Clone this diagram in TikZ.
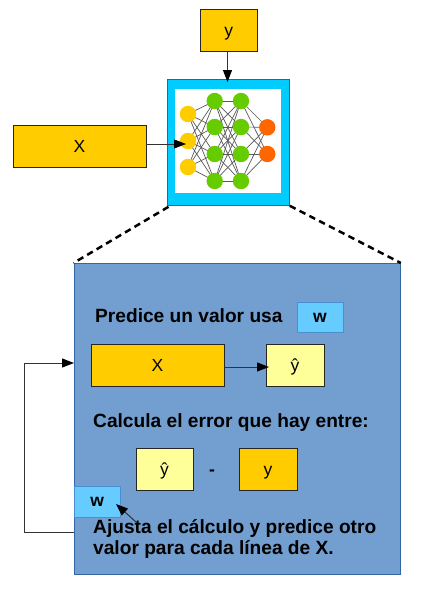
\documentclass[tikz,border=0pt]{standalone}
\usepackage{fontspec}
\setmainfont{Liberation Sans}
\usetikzlibrary{arrows.meta}
\definecolor{gold}{HTML}{FFCC00}
\definecolor{pale}{HTML}{FFFF99}
\definecolor{cyanf}{HTML}{00CCFF}
\definecolor{panel}{HTML}{729FCF}
\definecolor{panelb}{HTML}{3465A4}
\definecolor{wfill}{HTML}{66CCFF}
\definecolor{wline}{HTML}{4C8FD0}
\definecolor{ngreen}{HTML}{66CC00}
\definecolor{norange}{HTML}{FF6600}
\definecolor{nyellow}{HTML}{FFCC00}
\pgfdeclarelayer{top}
\pgfsetlayers{main,top}
\tikzset{
  x=1pt,y=-1pt,
  pxbox/.style 2 args={draw=#2,line width=1pt,inner sep=0pt,fill=#1,anchor=north west},
  databox/.style={pxbox={gold}{black!85},font=\fontsize{17.5}{20}\selectfont,text=black,text height=12.6pt,text depth=0pt},
  hatbox/.style={pxbox={pale}{black!85},font=\fontsize{17.5}{20}\selectfont,text=black,text height=12.6pt,text depth=0pt},
  wbox/.style={pxbox={wfill}{wline},font=\bfseries\fontsize{17.5}{20}\selectfont,text=black},
  para/.style={font=\bfseries\fontsize{19.15}{21}\selectfont,text=black,anchor=west,inner sep=0pt,align=left},
  conn/.style={line width=1pt,draw=black!80,-{Stealth[length=12pt,width=9pt,inset=0pt,black]}},
  zoomline/.style={line width=2.5pt,draw=black,dash pattern=on 6.5pt off 4.5pt},
  neuron/.style={circle,minimum size=16.4pt,inner sep=0pt,fill=#1},
  netedge/.style={line width=0.7pt,draw=black!65},
}
\begin{document}
\begin{tikzpicture}
\useasboundingbox (0,0) rectangle (425,590);
% network frame
\node[draw=cyanf!70!blue!80!black,line width=0.8pt,fill=cyanf,minimum width=122.5pt,minimum height=126pt,inner sep=0pt,anchor=north west] (frame) at (166.5,79) {};
\node[fill=white,minimum width=106pt,minimum height=104pt,inner sep=0pt,anchor=north west] (inner) at (175,89) {};
% neurons
\begin{pgfonlayer}{top}
\foreach \n/\yy in {1/114,2/141,3/167} \node[neuron=nyellow] (a\n) at (188,\yy) {};
\foreach \n/\yy in {1/101,2/127,3/154,4/181} {
  \node[neuron=ngreen] (b\n) at (214.7,\yy) {};
  \node[neuron=ngreen] (c\n) at (241,\yy) {};
}
\foreach \n/\yy in {1/127.3,2/154} \node[neuron=norange] (d\n) at (267.3,\yy) {};
\end{pgfonlayer}
\foreach \i in {1,2,3} \foreach \j in {1,2,3,4} \draw[netedge] (a\i.center) -- (b\j.center);
\foreach \i in {1,2,3,4} \foreach \j in {1,2,3,4} \draw[netedge] (b\i.center) -- (c\j.center);
\foreach \i in {1,2,3,4} \foreach \j in {1,2} \draw[netedge] (c\i.center) -- (d\j.center);
% top inputs
\node[databox,minimum width=57.5pt,minimum height=42pt] (ytop) at (199.5,9) {y};
\node[databox,minimum width=133pt,minimum height=42pt] (xtop) at (12.5,125) {X};
\coordinate (xstart) at (146,144);
\coordinate (xtip) at (186,144);
\begin{pgfonlayer}{top}
\draw[conn] (xstart) -- (xtip);
\end{pgfonlayer}
\coordinate (ytip) at (227.5,82);
\draw[conn] (ytop.south -| ytip) -- (ytip);
% panel
\node[draw=panelb,line width=0.8pt,fill=panel,minimum width=326.5pt,minimum height=311pt,inner sep=0pt,anchor=north west] (panelbox) at (73.5,263) {};
\draw[zoomline] (frame.south west) ++(2,1) -- (panelbox.north west);
\draw[zoomline] (frame.south east) -- (panelbox.north east);
\node[para] (t1) at (95,316) {Predice un valor usa};
\node[wbox,minimum width=46pt,minimum height=30pt] (w1) at (296.5,302) {w};
\node[databox,minimum width=133pt,minimum height=42pt] (x2) at (90.5,344) {X};
\node[hatbox,minimum width=58pt,minimum height=42pt] (yh1) at (265.5,344) {ŷ};
\coordinate (x2a) at (224,367);
\coordinate (yh1a) at (269,367);
\draw[conn] (x2a) -- (yh1a);
\node[para] (t2) at (93,422.8) {Calcula el error que hay entre:};
\node[hatbox,minimum width=57pt,minimum height=42pt] (yh2) at (135.5,448) {ŷ};
\node[font=\bfseries\fontsize{17.5}{20}\selectfont,text=black,inner sep=0pt] (minus) at (212,472.5) {-};
\node[databox,minimum width=58pt,minimum height=42pt] (y2) at (238.5,448) {y};
\node[wbox,minimum width=46.5pt,minimum height=31pt] (w2) at (73.5,486) {w};
\node[para] (t3) at (93,538.5) {Ajusta el cálculo y predice otro\\valor para cada línea de X.};
% feedback
\coordinate (lb) at (74,532);
\coordinate (lc) at (24,532);
\coordinate (ld) at (24,363);
\coordinate (le) at (74,363);
\draw[conn] (lb) -- (lc) -- (ld) -- (le);
\coordinate (wtail) at (136,522);
\coordinate (wtip) at (116,504);
\draw[conn] (wtail) -- (wtip);
\end{tikzpicture}
\end{document}
